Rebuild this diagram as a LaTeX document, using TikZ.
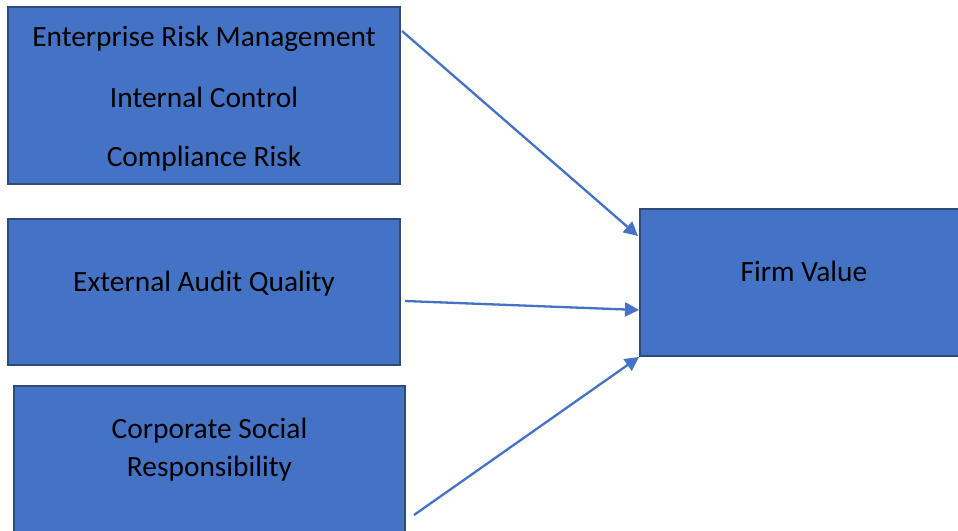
\documentclass[tikz,border=0pt]{standalone}
\usepackage{fontspec}
\setmainfont{Carlito}
\usetikzlibrary{arrows.meta,calc}
\definecolor{boxfill}{HTML}{4472C4}
\definecolor{boxline}{HTML}{2F4B7C}
\definecolor{arrowc}{HTML}{4472C4}
\begin{document}
\begin{tikzpicture}[x=1pt,y=-1pt,
  box/.style={draw=boxline,fill=boxfill,line width=2pt},
  lbl/.style={anchor=base,inner sep=0pt,font=\fontsize{29.4}{34}\selectfont,text=black},
  conn/.style={draw=arrowc,line width=2.3pt,-{Triangle[length=14pt,width=14pt]}}]
\useasboundingbox (0,0) rectangle (958,530);
\clip (0,0) rectangle (958,530);
\fill[white] (0,0) rectangle (958,530);
% boxes
\node[box,minimum width=392pt,minimum height=177pt,inner sep=0pt] (b1) at (204,95.5) {};
\node[box,minimum width=392pt,minimum height=146pt,inner sep=0pt] (b2) at (204,292) {};
\node[box,minimum width=391pt,minimum height=180pt,inner sep=0pt] (b3) at (209.5,476) {};
\node[box,minimum width=340pt,minimum height=147pt,inner sep=0pt] (b4) at (810,282.5) {};
% texts
\node[lbl] (t1) at (204,46) {Enterprise Risk Management};
\node[lbl] (t2) at (204,107) {Internal Control};
\node[lbl] (t3) at (204,166) {Compliance Risk};
\node[lbl] (t4) at (204,291) {External Audit Quality};
\node[lbl] (t5) at (209.5,438) {Corporate Social};
\node[lbl] (t6) at (209.5,476) {Responsibility};
\node[lbl] (t7) at (804,281) {Firm Value};
% connectors
\coordinate (s1) at ($(b1.north east)+(1,25)$);
\coordinate (s2) at ($(b2.east)+(4,9)$);
\coordinate (s3) at ($(b3.east)+(8,39)$);
\coordinate (e1) at ($(b4.north west)+(-1,28)$);
\coordinate (e2) at ($(b4.west)+(0,27.5)$);
\coordinate (e3) at (b4.south west);
\draw[conn] (s1) -- (e1);
\draw[conn] (s2) -- (e2);
\draw[conn] (s3) -- (e3);
\end{tikzpicture}
\end{document}
